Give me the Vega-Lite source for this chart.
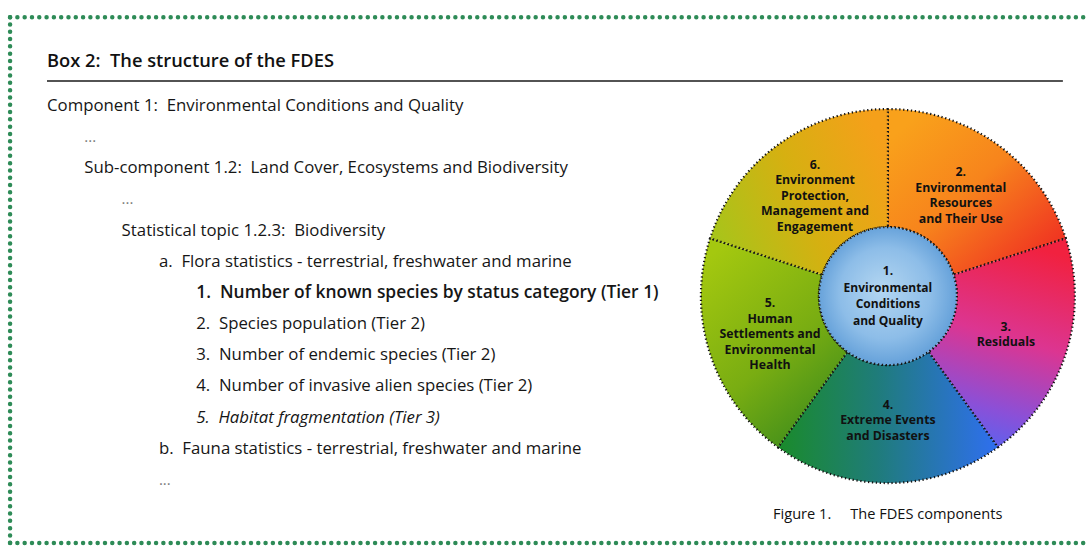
{
  "$schema": "https://vega.github.io/schema/vega-lite/v6.json",
  "width": 1089,
  "height": 546,
  "autosize": {"type": "fit", "contains": "padding"},
  "padding": 0,
  "background": "white",
  "config": {"view": {"stroke": null}, "text": {"font": "Open Sans", "color": "#161616"}},
  "data": {"values": [{}]},
  "datasets": {
    "header": [{"text": "Box 2:\u00a0 The structure of the FDES"}],
    "caption": [{"text": "Figure 1.\u00a0\u00a0\u00a0\u00a0 The FDES components"}],
    "outline": [
      {"line": 1, "level": 0, "text": "Component 1:\u00a0 Environmental Conditions and Quality", "tier": 0},
      {"line": 2, "level": 1, "text": "...", "tier": 0},
      {"line": 3, "level": 1, "text": "Sub-component 1.2:\u00a0 Land Cover, Ecosystems and Biodiversity", "tier": 0},
      {"line": 4, "level": 2, "text": "...", "tier": 0},
      {"line": 5, "level": 2, "text": "Statistical topic 1.2.3:\u00a0 Biodiversity", "tier": 0},
      {"line": 6, "level": 3, "text": "a.\u00a0 Flora statistics - terrestrial, freshwater and marine", "tier": 0},
      {"line": 7, "level": 4, "text": "1.\u00a0 Number of known species by status category (Tier 1)", "tier": 1},
      {"line": 8, "level": 4, "text": "2.\u00a0 Species population (Tier 2)", "tier": 2},
      {"line": 9, "level": 4, "text": "3.\u00a0 Number of endemic species (Tier 2)", "tier": 2},
      {"line": 10, "level": 4, "text": "4.\u00a0 Number of invasive alien species (Tier 2)", "tier": 2},
      {"line": 11, "level": 4, "text": "5.\u00a0 Habitat fragmentation (Tier 3)", "tier": 3},
      {"line": 12, "level": 3, "text": "b.\u00a0 Fauna statistics - terrestrial, freshwater and marine", "tier": 0},
      {"line": 13, "level": 3, "text": "...", "tier": 0}
    ],
    "components": [
      {"n": 2, "share": 1, "name": "2.\nEnvironmental\nResources\nand Their Use"},
      {"n": 3, "share": 1, "name": "3.\nResiduals"},
      {"n": 4, "share": 1, "name": "4.\nExtreme Events\nand Disasters"},
      {"n": 5, "share": 1, "name": "5.\nHuman\nSettlements and\nEnvironmental\nHealth"},
      {"n": 6, "share": 1, "name": "6.\nEnvironment\nProtection,\nManagement and\nEngagement"}
    ],
    "core": [{"n": 1, "name": "1.\nEnvironmental\nConditions\nand Quality"}]
  },
  "layer": [
    {
      "mark": {"type": "rule", "stroke": "#2e8b57", "strokeWidth": 4.5, "strokeDash": [0, 7.3], "strokeCap": "round"},
      "encoding": {
        "x": {"datum": -0.99, "type": "quantitative", "scale": {"domain": [-1.26, 27.93]}, "axis": null},
        "x2": {"datum": 27.82},
        "y": {"datum": -1.85, "type": "quantitative", "scale": {"domain": [-2.4, 15.12], "reverse": true}, "axis": null}
      }
    },
    {
      "mark": {"type": "rule", "stroke": "#2e8b57", "strokeWidth": 4.5, "strokeDash": [0, 7.3], "strokeCap": "round"},
      "encoding": {
        "x": {"datum": -0.99, "type": "quantitative", "scale": {"domain": [-1.26, 27.93]}, "axis": null},
        "x2": {"datum": 27.82},
        "y": {"datum": 15.02, "type": "quantitative", "scale": {"domain": [-2.4, 15.12], "reverse": true}, "axis": null}
      }
    },
    {
      "mark": {"type": "rule", "stroke": "#2e8b57", "strokeWidth": 4.5, "strokeDash": [0, 7.3], "strokeCap": "round"},
      "encoding": {
        "x": {"datum": -0.99, "type": "quantitative", "scale": {"domain": [-1.26, 27.93]}, "axis": null},
        "y": {"datum": -1.85, "type": "quantitative", "scale": {"domain": [-2.4, 15.12], "reverse": true}, "axis": null},
        "y2": {"datum": 15.02}
      }
    },
    {
      "data": {"name": "header"},
      "mark": {"type": "text", "align": "left", "baseline": "middle", "fontSize": 18.3, "fontWeight": 600, "color": "#111"},
      "encoding": {
        "x": {"datum": 0, "type": "quantitative", "scale": {"domain": [-1.26, 27.93]}, "axis": null},
        "y": {"datum": -0.41, "type": "quantitative", "scale": {"domain": [-2.4, 15.12], "reverse": true}, "axis": null},
        "text": {"field": "text"}
      }
    },
    {
      "mark": {"type": "rule", "color": "#1a1a1a", "strokeWidth": 1.6},
      "encoding": {
        "x": {"datum": 0, "type": "quantitative", "scale": {"domain": [-1.26, 27.93]}, "axis": null},
        "x2": {"datum": 27.23},
        "y": {"datum": 0.2, "type": "quantitative", "scale": {"domain": [-2.4, 15.12], "reverse": true}, "axis": null}
      }
    },
    {
      "data": {"name": "outline"},
      "transform": [{"filter": "datum.text != '...' && datum.tier != 1 && datum.tier != 3"}],
      "mark": {"type": "text", "align": "left", "baseline": "middle", "fontSize": 16.8},
      "encoding": {
        "x": {"field": "level", "type": "quantitative", "scale": {"domain": [-1.26, 27.93]}, "axis": null},
        "y": {"field": "line", "type": "quantitative", "scale": {"domain": [-2.4, 15.12], "reverse": true}, "axis": null},
        "text": {"field": "text"}
      }
    },
    {
      "data": {"name": "outline"},
      "transform": [{"filter": "datum.tier == 1"}],
      "mark": {"type": "text", "align": "left", "baseline": "middle", "fontSize": 17.4, "fontWeight": 600},
      "encoding": {
        "x": {"field": "level", "type": "quantitative", "scale": {"domain": [-1.26, 27.93]}, "axis": null},
        "y": {"field": "line", "type": "quantitative", "scale": {"domain": [-2.4, 15.12], "reverse": true}, "axis": null},
        "text": {"field": "text"}
      }
    },
    {
      "data": {"name": "outline"},
      "transform": [{"filter": "datum.tier == 3"}],
      "mark": {"type": "text", "align": "left", "baseline": "middle", "fontSize": 16.8, "fontStyle": "italic"},
      "encoding": {
        "x": {"field": "level", "type": "quantitative", "scale": {"domain": [-1.26, 27.93]}, "axis": null},
        "y": {"field": "line", "type": "quantitative", "scale": {"domain": [-2.4, 15.12], "reverse": true}, "axis": null},
        "text": {"field": "text"}
      }
    },
    {
      "data": {"name": "outline"},
      "transform": [{"filter": "datum.text == '...'"}],
      "mark": {"type": "text", "align": "left", "baseline": "middle", "fontSize": 15, "color": "#7a7a7a"},
      "encoding": {
        "x": {"field": "level", "type": "quantitative", "scale": {"domain": [-1.26, 27.93]}, "axis": null},
        "y": {"field": "line", "type": "quantitative", "scale": {"domain": [-2.4, 15.12], "reverse": true}, "axis": null},
        "text": {"field": "text"}
      }
    },
    {
      "data": {"name": "components"},
      "mark": {"type": "arc", "radius": 187, "radius2": 69, "stroke": "#161616", "strokeWidth": 2.2, "strokeDash": [1.3, 2.6]},
      "encoding": {
        "x": {"datum": 22.54, "type": "quantitative", "scale": {"domain": [-1.26, 27.93]}, "axis": null},
        "y": {"datum": 7.1, "type": "quantitative", "scale": {"domain": [-2.4, 15.12], "reverse": true}, "axis": null},
        "theta": {"field": "share", "type": "quantitative", "stack": true},
        "order": {"field": "n", "type": "quantitative"},
        "color": {
          "condition": [
            {"test": "datum.n == 2", "value": {"gradient": "linear", "x1": 0.2, "y1": 0, "x2": 1, "y2": 0.85, "stops": [{"offset": 0, "color": "#f9a11b"}, {"offset": 0.45, "color": "#f7841c"}, {"offset": 1, "color": "#ef2c22"}]}},
            {"test": "datum.n == 3", "value": {"gradient": "linear", "x1": 0.5, "y1": 0, "x2": 0.3, "y2": 1, "stops": [{"offset": 0, "color": "#f1213f"}, {"offset": 0.45, "color": "#dc3591"}, {"offset": 0.8, "color": "#8a50d8"}, {"offset": 1, "color": "#5864f0"}]}},
            {"test": "datum.n == 4", "value": {"gradient": "linear", "x1": 0, "y1": 0.5, "x2": 1, "y2": 0.5, "stops": [{"offset": 0, "color": "#1a8b2a"}, {"offset": 0.45, "color": "#1f7c7a"}, {"offset": 1, "color": "#2f6ff0"}]}},
            {"test": "datum.n == 5", "value": {"gradient": "linear", "x1": 0.2, "y1": 0, "x2": 0.8, "y2": 1, "stops": [{"offset": 0, "color": "#a4c80f"}, {"offset": 0.55, "color": "#79ad12"}, {"offset": 1, "color": "#3a8a1c"}]}}
          ],
          "value": {"gradient": "linear", "x1": 0, "y1": 0.7, "x2": 1, "y2": 0.3, "stops": [{"offset": 0, "color": "#a8c41a"}, {"offset": 0.5, "color": "#d6b011"}, {"offset": 1, "color": "#f5a01a"}]}
        }
      }
    },
    {
      "data": {"name": "components"},
      "mark": {"type": "text", "radius": 124, "align": "center", "baseline": "middle", "dy": -7.75, "fontSize": 12.3, "fontWeight": "bold", "lineBreak": "\n", "lineHeight": 15.5, "color": "#111"},
      "encoding": {
        "x": {"datum": 22.54, "type": "quantitative", "scale": {"domain": [-1.26, 27.93]}, "axis": null},
        "y": {"datum": 7.1, "type": "quantitative", "scale": {"domain": [-2.4, 15.12], "reverse": true}, "axis": null},
        "theta": {"field": "share", "type": "quantitative", "stack": true},
        "order": {"field": "n", "type": "quantitative"},
        "opacity": {"condition": {"test": "split(datum.name, '\\n').length == 2", "value": 1}, "value": 0},
        "text": {"field": "name"}
      }
    },
    {
      "data": {"name": "components"},
      "mark": {"type": "text", "radius": 124, "align": "center", "baseline": "middle", "dy": -15.5, "fontSize": 12.3, "fontWeight": "bold", "lineBreak": "\n", "lineHeight": 15.5, "color": "#111"},
      "encoding": {
        "x": {"datum": 22.54, "type": "quantitative", "scale": {"domain": [-1.26, 27.93]}, "axis": null},
        "y": {"datum": 7.1, "type": "quantitative", "scale": {"domain": [-2.4, 15.12], "reverse": true}, "axis": null},
        "theta": {"field": "share", "type": "quantitative", "stack": true},
        "order": {"field": "n", "type": "quantitative"},
        "opacity": {"condition": {"test": "split(datum.name, '\\n').length == 3", "value": 1}, "value": 0},
        "text": {"field": "name"}
      }
    },
    {
      "data": {"name": "components"},
      "mark": {"type": "text", "radius": 124, "align": "center", "baseline": "middle", "dy": -23.25, "fontSize": 12.3, "fontWeight": "bold", "lineBreak": "\n", "lineHeight": 15.5, "color": "#111"},
      "encoding": {
        "x": {"datum": 22.54, "type": "quantitative", "scale": {"domain": [-1.26, 27.93]}, "axis": null},
        "y": {"datum": 7.1, "type": "quantitative", "scale": {"domain": [-2.4, 15.12], "reverse": true}, "axis": null},
        "theta": {"field": "share", "type": "quantitative", "stack": true},
        "order": {"field": "n", "type": "quantitative"},
        "opacity": {"condition": {"test": "split(datum.name, '\\n').length == 4", "value": 1}, "value": 0},
        "text": {"field": "name"}
      }
    },
    {
      "data": {"name": "components"},
      "mark": {"type": "text", "radius": 124, "align": "center", "baseline": "middle", "dy": -31, "fontSize": 12.3, "fontWeight": "bold", "lineBreak": "\n", "lineHeight": 15.5, "color": "#111"},
      "encoding": {
        "x": {"datum": 22.54, "type": "quantitative", "scale": {"domain": [-1.26, 27.93]}, "axis": null},
        "y": {"datum": 7.1, "type": "quantitative", "scale": {"domain": [-2.4, 15.12], "reverse": true}, "axis": null},
        "theta": {"field": "share", "type": "quantitative", "stack": true},
        "order": {"field": "n", "type": "quantitative"},
        "opacity": {"condition": {"test": "split(datum.name, '\\n').length == 5", "value": 1}, "value": 0},
        "text": {"field": "name"}
      }
    },
    {
      "data": {"name": "core"},
      "mark": {"type": "circle", "size": 19044, "opacity": 1, "stroke": "#161616", "strokeWidth": 2.2, "strokeDash": [1.3, 2.6],
        "fill": {"gradient": "radial", "x1": 0.45, "y1": 0.45, "r1": 0, "x2": 0.5, "y2": 0.5, "r2": 0.55, "stops": [{"offset": 0, "color": "#b3d6f1"}, {"offset": 0.6, "color": "#8dbde8"}, {"offset": 1, "color": "#5b9ad6"}]}},
      "encoding": {
        "x": {"datum": 22.54, "type": "quantitative", "scale": {"domain": [-1.26, 27.93]}, "axis": null},
        "y": {"datum": 7.1, "type": "quantitative", "scale": {"domain": [-2.4, 15.12], "reverse": true}, "axis": null}
      }
    },
    {
      "data": {"name": "core"},
      "mark": {"type": "text", "align": "center", "baseline": "middle", "dy": -24.75, "fontSize": 12, "fontWeight": "bold", "lineBreak": "\n", "lineHeight": 16.5, "color": "#111"},
      "encoding": {
        "x": {"datum": 22.54, "type": "quantitative", "scale": {"domain": [-1.26, 27.93]}, "axis": null},
        "y": {"datum": 7.1, "type": "quantitative", "scale": {"domain": [-2.4, 15.12], "reverse": true}, "axis": null},
        "text": {"field": "name"}
      }
    },
    {
      "data": {"name": "caption"},
      "mark": {"type": "text", "align": "left", "baseline": "middle", "fontSize": 14.6, "color": "#111"},
      "encoding": {
        "x": {"datum": 19.46, "type": "quantitative", "scale": {"domain": [-1.26, 27.93]}, "axis": null},
        "y": {"datum": 14.13, "type": "quantitative", "scale": {"domain": [-2.4, 15.12], "reverse": true}, "axis": null},
        "text": {"field": "text"}
      }
    }
  ]
}
